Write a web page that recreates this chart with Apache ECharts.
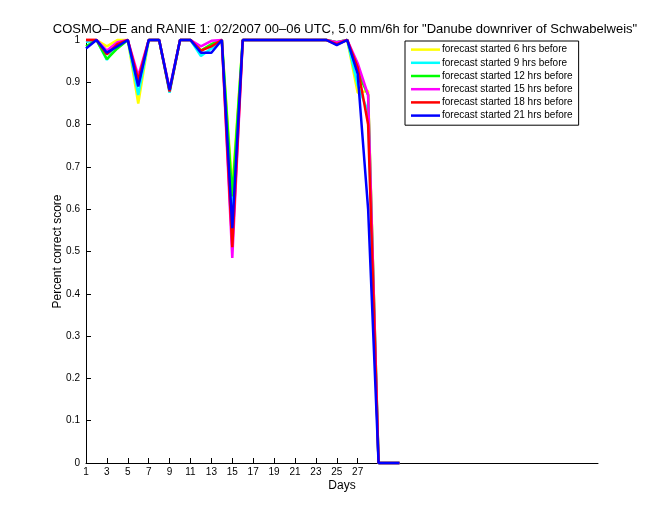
<!DOCTYPE html>
<html>
<head>
<meta charset="utf-8">
<script src="https://cdn.jsdelivr.net/npm/echarts@6/dist/echarts.min.js"></script>
<style>
html,body{margin:0;padding:0;background:#fff;}
#chart{width:660px;height:520px;}
</style>
</head>
<body>
<div id="chart"></div>
<script>
const days = [1,2,3,4,5,6,7,8,9,10,11,12,13,14,15,16,17,18,19,20,21,22,23,24,25,26,27,28,29,30,31];
const xTickDays = [1,3,5,7,9,11,13,15,17,19,21,23,25,27];
const seriesNames = [
  'forecast started 6 hrs before',
  'forecast started 9 hrs before',
  'forecast started 12 hrs before',
  'forecast started 15 hrs before',
  'forecast started 18 hrs before',
  'forecast started 21 hrs before'
];
const seriesColors = ['#ffff00','#00ffff','#00ff00','#ff00ff','#ff0000','#0000ff'];
const fc06 = [1.0,1,0.985,1.0,1,0.85,1,1,0.88,1,1,0.975,0.99,1,0.65,1,1,1,1,1,1,1,1,1,0.995,1,0.875,0.88,0,0,0];
const fc09 = [0.995,1,0.953,0.99,1,0.87,1,1,0.875,1,1,0.962,0.98,1,0.60,1,1,1,1,1,1,1,1,1,0.995,1,0.893,0.83,0,0,0];
const fc12 = [0.985,1,0.955,0.98,1,0.895,1,1,0.88,1,1,0.975,0.99,1,0.63,1,1,1,1,1,1,1,1,1,0.995,1,0.925,0.87,0,0,0];
const fc15 = [1.0,1,0.975,0.995,1,0.915,1,1,0.885,1,1,0.985,0.998,1,0.485,1,1,1,1,1,1,1,1,1,0.995,1,0.945,0.87,0,0,0];
const fc18 = [1.0,1,0.966,0.99,1,0.905,1,1,0.878,1,1,0.975,0.985,1,0.51,1,1,1,1,1,1,1,1,1,0.99,1,0.935,0.80,0,0,0];
const fc21 = [0.98,1,0.97,0.985,1,0.89,1,1,0.882,1,1,0.97,0.97,1,0.555,1,1,1,1,1,1,1,1,1,0.988,1,0.92,0.60,0,0,0];
const allSeries = [fc06, fc09, fc12, fc15, fc18, fc21];

const font = 'Liberation Sans, Arial, Helvetica, sans-serif';
const chart = echarts.init(document.getElementById('chart'), null, {renderer:'canvas'});
chart.setOption({
  animation: false,
  backgroundColor: '#ffffff',
  title: {
    text: 'COSMO\u2013DE and RANIE 1: 02/2007 00\u201306 UTC, 5.0 mm/6h for "Danube downriver of Schwabelweis"',
    left: 340, top: 18, textAlign: 'center',
    textStyle: {fontFamily: font, fontSize: 13, fontWeight: 'normal', color: '#000'}
  },
  legend: {
    orient: 'vertical',
    left: 405, top: 41,
    padding: [2, 6, 3, 6],
    icon: 'rect',
    itemWidth: 29, itemHeight: 2.5, itemGap: 0,
    borderColor: '#000', borderWidth: 1,
    backgroundColor: '#fff',
    textStyle: {fontFamily: font, fontSize: 10, color: '#000', lineHeight: 13.2, padding: [0,0,0,-3]},
    data: seriesNames
  },
  grid: {left: 86, right: 62, top: 40, bottom: 57, containLabel: false},
  xAxis: {
    type: 'value', min: 1, max: 50,
    name: 'Days', nameLocation: 'middle', nameGap: 17, nameMoveOverlap: false,
    nameTextStyle: {fontFamily: font, fontSize: 12, color: '#000'},
    axisLine: {show: true, lineStyle: {color: '#000', width: 1}},
    axisTick: {show: true, inside: true, length: 5, lineStyle: {color: '#000'}, customValues: xTickDays},
    axisLabel: {fontFamily: font, fontSize: 10, color: '#000', margin: 4, customValues: xTickDays, showMinLabel: true, showMaxLabel: true},
    splitLine: {show: false}
  },
  yAxis: {
    type: 'value', min: 0, max: 1, interval: 0.1,
    name: 'Percent correct score', nameLocation: 'middle', nameGap: 22, nameMoveOverlap: false,
    nameTextStyle: {fontFamily: font, fontSize: 12, color: '#000'},
    axisLine: {show: true, lineStyle: {color: '#000', width: 1}},
    axisTick: {show: true, inside: true, length: 5, lineStyle: {color: '#000'}},
    axisLabel: {fontFamily: font, fontSize: 10, color: '#000', margin: 6,
      formatter: v => (Math.round(v*10)/10).toString()},
    splitLine: {show: false}
  },
  series: allSeries.map((vals, i) => ({
    name: seriesNames[i],
    type: 'line',
    data: days.map((d, j) => [d, vals[j]]),
    symbol: 'none',
    lineStyle: {color: seriesColors[i], width: 2.5},
    itemStyle: {color: seriesColors[i]},
    clip: false
  }))
});
</script>
</body>
</html>
